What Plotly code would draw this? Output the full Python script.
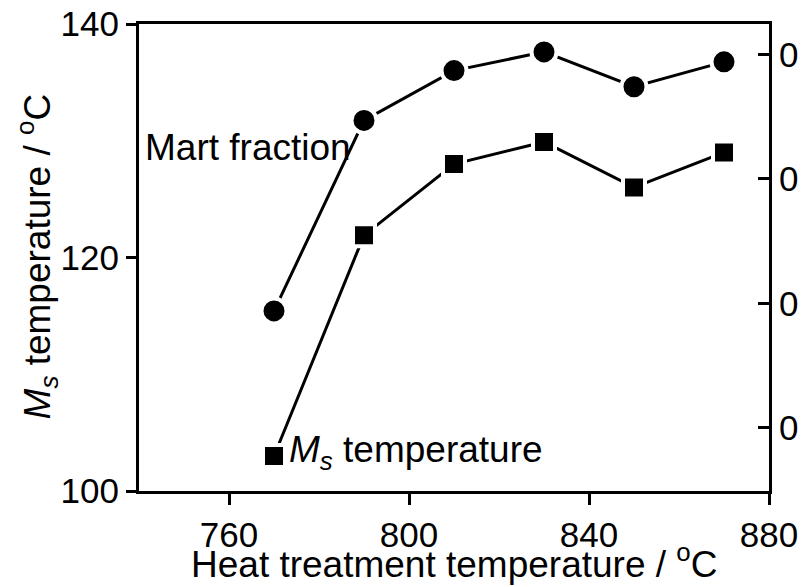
import plotly.graph_objects as go

heat_temp = [770, 790, 810, 830, 850, 870]
ms_temp = [103.0, 121.9, 128.0, 129.9, 126.0, 129.0]
mart_fraction = [0.694, 0.847, 0.887, 0.902, 0.874, 0.894]

x_ticks = [760, 800, 840, 880]
y_ticks = [100, 120, 140]
y2_ticks = [0.6, 0.7, 0.8, 0.9]
y2_ticktext = ["0", "0", "0", "0"]

FONT = "Arial, Liberation Sans, sans-serif"
FS = 35
TFS = 37

fig = go.Figure()
fig.add_trace(go.Scatter(
    x=heat_temp, y=ms_temp, mode="lines+markers",
    line=dict(color="black", width=3),
    marker=dict(symbol="square", size=22, color="black",
                line=dict(color="white", width=4)),
    showlegend=False))
fig.add_trace(go.Scatter(
    x=heat_temp, y=mart_fraction, mode="lines+markers", yaxis="y2",
    line=dict(color="black", width=3),
    marker=dict(symbol="circle", size=25, color="black",
                line=dict(color="white", width=4)),
    showlegend=False))

axis_common = dict(showline=True, linecolor="black", linewidth=3,
                   showgrid=False, zeroline=False, automargin=False,
                   tickfont=dict(family=FONT, size=FS, color="black"),
                   tickcolor="black", tickwidth=3)

fig.update_layout(
    width=802, height=587,
    margin=dict(l=139, r=33, t=24, b=96),
    paper_bgcolor="white", plot_bgcolor="white",
    font=dict(family=FONT, size=FS, color="black"),
    xaxis=dict(range=[740, 880], tickvals=x_ticks, ticks="outside", ticklen=11,
               mirror=True, **axis_common),
    yaxis=dict(range=[100, 140], tickvals=y_ticks, ticks="outside", ticklen=10,
               **axis_common),
    yaxis2=dict(overlaying="y", side="right", range=[0.5494, 0.9244],
                tickvals=y2_ticks, ticktext=y2_ticktext, ticks="inside", ticklen=11,
                **axis_common),
    annotations=[
        dict(x=0.5, y=-0.15, xref="paper", yref="paper",
             text="Heat treatment temperature / <sup>o</sup>C",
             showarrow=False, xanchor="center", yanchor="middle",
             font=dict(family=FONT, size=TFS, color="black")),
        dict(x=-0.163, y=0.503, xref="paper", yref="paper", textangle=-90,
             text="<i>M</i><sub><i>s</i></sub> temperature / <sup>o</sup>C",
             showarrow=False, xanchor="center", yanchor="middle",
             font=dict(family=FONT, size=TFS, color="black")),
        dict(x=740.9, y=129.4, xref="x", yref="y", text="Mart fraction",
             showarrow=False, xanchor="left", yanchor="middle",
             font=dict(family=FONT, size=TFS, color="black")),
        dict(x=772.9, y=103.3, xref="x", yref="y",
             text="<i>M</i><sub><i>s</i></sub> temperature",
             showarrow=False, xanchor="left", yanchor="middle",
             font=dict(family=FONT, size=TFS, color="black")),
    ],
)

fig.write_html("out.html")
